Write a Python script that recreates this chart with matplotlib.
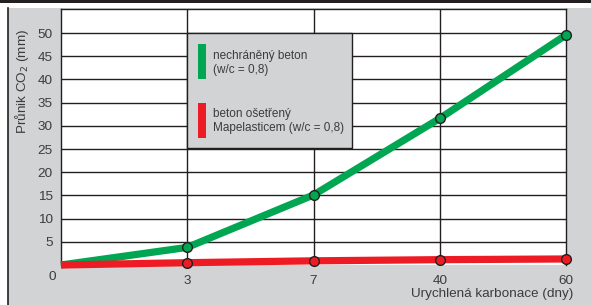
import matplotlib.pyplot as plt
from matplotlib.patches import Rectangle
from matplotlib.lines import Line2D

# data
days = ['0', '3', '7', '40', '60']
unprotected = [0.0, 3.8, 15.1, 31.6, 49.6]
protected = [0.0, 0.5, 0.9, 1.15, 1.3]
y_ticks = [5, 10, 15, 20, 25, 30, 35, 40, 45, 50]

GREEN = '#00a651'
RED = '#ed1c24'
GREY = '#d1d3d4'
DARK = '#231f20'
TXT = '#3c3c3c'

plt.rcParams['font.family'] = ['Liberation Sans', 'DejaVu Sans']

W, H = 591, 305
fig = plt.figure(figsize=(W / 100, H / 100), dpi=100)
fig.patch.set_facecolor('white')


def fx(px):
    return px / W


def fy(py):
    return 1 - py / H


# grey panel + frame, black bar on top
fig.patches.append(Rectangle((fx(8), 0), 1 - fx(8), fy(8), transform=fig.transFigure,
                             facecolor=GREY, edgecolor='none', zorder=-2))
fig.lines.append(Line2D([fx(8), fx(8)], [0, fy(8)], transform=fig.transFigure,
                        color=DARK, lw=1.2, zorder=-1))
fig.patches.append(Rectangle((0, fy(3)), 1, 1 - fy(3), transform=fig.transFigure,
                             facecolor=DARK, edgecolor='none', zorder=-1))

ax = fig.add_axes([fx(61), fy(265), fx(566) - fx(61), fy(9) - fy(265)])
ax.set_zorder(2)
ax.set_facecolor('white')
x = list(range(len(days)))
ax.set_xlim(0, len(days) - 1)
ax.set_ylim(0, 55.2)

for v in y_ticks:
    ax.axhline(v, color=DARK, lw=1.0, zorder=1)
for i in x[1:-1]:
    ax.axvline(i, color=DARK, lw=1.0, zorder=1)
for s in ['left', 'right', 'top']:
    ax.spines[s].set_color(DARK)
    ax.spines[s].set_linewidth(1.0)
ax.spines['bottom'].set_visible(False)

ax.plot(x, unprotected, color=GREEN, lw=5.2, solid_capstyle='butt', zorder=3, clip_on=False)
ax.plot(x, protected, color=RED, lw=5.2, solid_capstyle='butt', zorder=4, clip_on=False)
ax.plot(x[1:], unprotected[1:], 'o', ms=7, mfc=GREEN, mec=DARK, mew=1.0, zorder=5, clip_on=False)
ax.plot(x[1:], protected[1:], 'o', ms=7, mfc=RED, mec=DARK, mew=1.0, zorder=5, clip_on=False)

ax.set_yticks(y_ticks)
ax.set_yticklabels([str(v) for v in y_ticks])
ax.set_xticks(x[1:])
ax.set_xticklabels(days[1:])
ax.tick_params(length=0, labelsize=9.7, colors=TXT)
ax.tick_params(axis='y', pad=6)
ax.tick_params(axis='x', pad=7)
fig.text(fx(52), fy(277), days[0], ha='center', va='center', fontsize=9.7, color=TXT)

fig.text(fx(573), fy(294), 'Urychlená karbonace (dny)', ha='right', va='center',
         fontsize=9.7, color=TXT)
fig.text(fx(22), fy(81), 'Průnik CO$_2$ (mm)', ha='center', va='center',
         rotation=90, fontsize=9.7, color=TXT)

# legend box
fig.patches.append(Rectangle((fx(187), fy(148)), fx(352) - fx(187), fy(33) - fy(148),
                             transform=fig.transFigure, facecolor=GREY,
                             edgecolor=DARK, lw=1.0, zorder=6))
fig.patches.append(Rectangle((fx(198), fy(79)), fx(206) - fx(198), fy(44) - fy(79),
                             transform=fig.transFigure, facecolor=GREEN,
                             edgecolor='none', zorder=7))
fig.patches.append(Rectangle((fx(198), fy(138)), fx(206) - fx(198), fy(103) - fy(138),
                             transform=fig.transFigure, facecolor=RED,
                             edgecolor='none', zorder=7))
fig.text(fx(213), fy(63), 'nechráněný beton\n(w/c = 0,8)', ha='left', va='center',
         fontsize=8.5, color=TXT, linespacing=1.3, zorder=8)
fig.text(fx(213), fy(121), 'beton ošetřený\nMapelasticem (w/c = 0,8)', ha='left',
         va='center', fontsize=8.5, color=TXT, linespacing=1.3, zorder=8)

fig.savefig('out.png', dpi=100)
